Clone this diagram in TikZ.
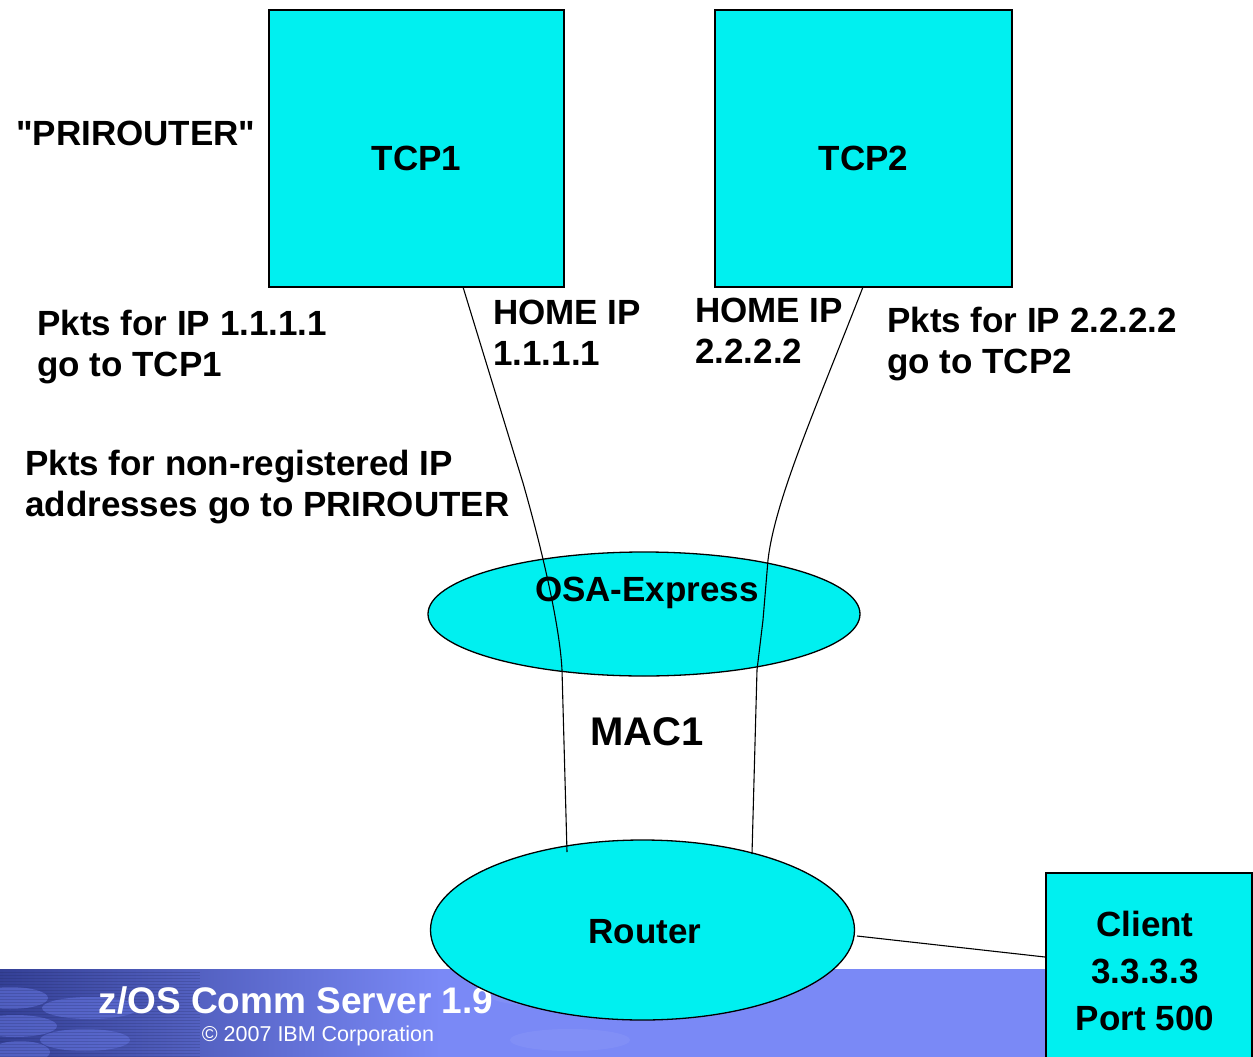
\documentclass[tikz,border=0pt]{standalone}
\usepackage{fontspec}
\setmainfont{Liberation Sans}[Ligatures=TeXOff]
\usetikzlibrary{shapes.geometric}
\definecolor{cyanfill}{RGB}{0,240,240}
\definecolor{bannerblue}{RGB}{122,137,246}
\definecolor{bannerdark}{RGB}{52,64,150}
\definecolor{blobblue}{RGB}{100,116,222}
\begin{document}
\begin{tikzpicture}[x=1pt,y=-1pt,
  txt/.style={font=\fontsize{35}{41}\selectfont\bfseries, inner sep=0pt, align=left},
  boxnode/.style={draw=black, line width=1.6pt, fill=cyanfill, inner sep=0pt},
  ellnode/.style={draw=black, line width=1.3pt, fill=cyanfill, ellipse, inner sep=0pt},
  wire/.style={draw=black, line width=1.1pt}
]
\useasboundingbox (0,0) rectangle (1253,1057);
\fill[white] (0,0) rectangle (1253,1057);
% banner
\fill[bannerblue] (0,969) rectangle (1253,1057);
\shade[left color=bannerdark, right color=bannerblue] (0,969) rectangle (440,1057);
\foreach \cx/\cy/\rx in {10/998/38, 15/1026/42, 90/1008/48, 85/1040/45, 20/1052/30}
  \fill[blobblue, opacity=0.6] (\cx,\cy) ellipse [x radius=\rx, y radius=11];
\foreach \cx/\cy/\rx in {560/996/70, 570/1040/60}
  \fill[white, opacity=0.06] (\cx,\cy) ellipse [x radius=\rx, y radius=11];
\foreach \yy in {972,975,...,1056} \draw[bannerdark!60!black, opacity=0.22, line width=0.6pt] (0,\yy) -- (200,\yy);
\node[font=\fontsize{37}{40}\selectfont\bfseries, text=white, inner sep=0pt] (bt) at (296,1000) {z/OS Comm Server 1.9};
\node[font=\fontsize{21.5}{24}\selectfont, text=white, inner sep=0pt] (bc) at (318,1036) {© 2007 IBM Corporation};

% boxes
\node[boxnode, minimum width=295pt, minimum height=277pt,
  label={[font=\fontsize{35}{41}\selectfont\bfseries, inner sep=0pt, yshift=-10pt]center:TCP1}] (tcp1) at (416.5,148.5) {};
\node[boxnode, minimum width=297pt, minimum height=277pt,
  label={[font=\fontsize{35}{41}\selectfont\bfseries, inner sep=0pt, yshift=-10pt]center:TCP2}] (tcp2) at (863.5,148.5) {};

% ellipses
\node[ellnode, minimum width=432pt, minimum height=124pt] (osa) at (644,614) {};
\node[txt] (osat) at (647,593) {OSA-Express};
\node[ellnode, minimum width=424pt, minimum height=180pt] (router) at (642.5,930) {};
\node[txt] (routert) at (645,932) {Router};

% client
\node[boxnode, minimum width=206pt, minimum height=200pt, anchor=north west] (client) at (1045,872) {};
\node[font=\fontsize{35}{47}\selectfont\bfseries, inner sep=0pt, align=center] (clientt) at (1145,971) {Client\\3.3.3.3\\Port 500};

% labels
\node[txt, anchor=west] (prir) at (16,133) {"PRIROUTER"};
\node[txt, anchor=west] (p1) at (37,347) {Pkts for IP 1.1.1.1\\go to TCP1};
\node[txt, anchor=west] (h1) at (493,333) {HOME IP\\1.1.1.1};
\node[txt, anchor=west] (h2) at (695,331) {HOME IP\\2.2.2.2};
\node[txt, anchor=west] (p2) at (887,344) {Pkts for IP 2.2.2.2\\go to TCP2};
\node[txt, anchor=west] (pn) at (25,487) {Pkts for non-registered IP\\addresses go to PRIROUTER};
\node[font=\fontsize{40}{44}\selectfont\bfseries, inner sep=0pt] (mac) at (647,732) {MAC1};

% wires
\coordinate (a1) at (463,287);
\coordinate (a2) at (523,483);
\coordinate (a3) at (562,670);
\coordinate (a5) at (567,852);
\coordinate (b1) at (863,287);
\coordinate (b2) at (768,560);
\coordinate (b3) at (763,620);
\coordinate (b4) at (757,670);
\coordinate (b5) at (752,854);
\draw[wire] (a1) -- (a2) .. controls (545,560) and (560,630) .. (a3) -- (a5);
\draw[wire] (b1) .. controls (815,410) and (775,500) .. (b2) -- (b3) -- (b4) -- (b5);
\coordinate (r1) at (857,936);
\draw[wire] (r1) -- (client.west |- 0,957);
\end{tikzpicture}
\end{document}
